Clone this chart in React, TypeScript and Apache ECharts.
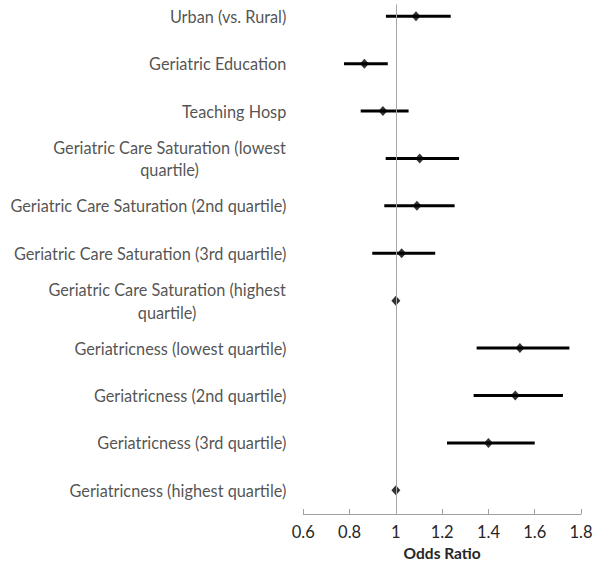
import React, { useEffect, useRef } from "react";
import * as echarts from "echarts";

const categories: string[] = [
  "Urban (vs. Rural)",
  "Geriatric Education",
  "Teaching Hosp",
  "Geriatric Care Saturation (lowest\nquartile)",
  "Geriatric Care Saturation (2nd quartile)",
  "Geriatric Care Saturation (3rd quartile)",
  "Geriatric Care Saturation (highest\nquartile)",
  "Geriatricness (lowest quartile)",
  "Geriatricness (2nd quartile)",
  "Geriatricness (3rd quartile)",
  "Geriatricness (highest quartile)",
];

const oddsRatio: number[] = [1.087, 0.864, 0.944, 1.103, 1.091, 1.025, 1.0, 1.536, 1.516, 1.4, 1.0];
const ciLow: (number | null)[] = [0.957, 0.776, 0.848, 0.956, 0.95, 0.898, null, 1.349, 1.336, 1.221, null];
const ciHigh: (number | null)[] = [1.237, 0.965, 1.055, 1.273, 1.254, 1.17, null, 1.75, 1.722, 1.6, null];

const xTicks = { min: 0.6, max: 1.8, interval: 0.2 };
const xTitle = "Odds Ratio";

const FONT = "Lato, 'Open Sans', sans-serif";
const TEXT = "#262626";
const LABEL_SIZE = 16.3;

export default function App() {
  const ref = useRef<HTMLDivElement>(null);
  useEffect(() => {
    if (!ref.current) return;
    const chart = echarts.init(ref.current, null, { renderer: "svg" });
    const canvas = document.createElement("canvas");
    const ctx = canvas.getContext("2d");
    const measure = (s: string) => {
      if (!ctx) return s.length * 7;
      ctx.font = LABEL_SIZE + "px " + FONT;
      return ctx.measureText(s).width;
    };
    const errData = categories
      .map((_, i) => (ciLow[i] != null && ciHigh[i] != null ? [ciLow[i], ciHigh[i], i] : null))
      .filter((d) => d !== null);
    const rich: Record<string, any> = {};
    const formatted = categories.map((s, i) => {
      if (s.indexOf("\n") < 0) return s;
      const lines = s.split("\n");
      const w = Math.max(...lines.map(measure)) + 1;
      const key = "c" + i;
      rich[key] = {
        width: w,
        align: "center",
        fontFamily: FONT,
        fontSize: LABEL_SIZE,
        color: TEXT,
        lineHeight: 22.7,
      };
      return lines.map((l) => "{" + key + "|" + l + "}").join("\n");
    });
    chart.setOption({
      animation: false,
      grid: { left: 303.3, right: 19, top: 4.4, bottom: 51.6 },
      xAxis: {
        type: "value",
        position: "bottom",
        min: xTicks.min,
        max: xTicks.max,
        interval: xTicks.interval,
        splitLine: { show: false },
        axisLine: { show: true, onZero: false, lineStyle: { color: "#a0a0a0", width: 1 } },
        axisTick: { show: true, inside: true, length: 5, lineStyle: { color: "#a0a0a0" } },
        axisLabel: { fontFamily: FONT, fontSize: 16.5, color: TEXT, margin: 9 },
        name: xTitle,
        nameLocation: "middle",
        nameGap: 31,
        nameTextStyle: { fontFamily: FONT, fontSize: 15.5, fontWeight: "bold", color: TEXT },
      },
      yAxis: {
        type: "value",
        inverse: true,
        min: -0.25,
        max: 10.5,
        show: false,
      },
      series: [
        {
          type: "custom",
          data: errData,
          renderItem: (params: any, api: any) => {
            const p1 = api.coord([api.value(0), api.value(2)]);
            const p2 = api.coord([api.value(1), api.value(2)]);
            return {
              type: "line",
              shape: { x1: p1[0], y1: p1[1], x2: p2[0], y2: p2[1] },
              style: { stroke: "#000", lineWidth: 3 },
            };
          },
          encode: { x: [0, 1], y: 2 },
          z: 2,
        },
        {
          type: "scatter",
          data: oddsRatio.map((v, i) => [v, i]),
          symbol: "diamond",
          symbolSize: [9, 10],
          itemStyle: { color: "#000" },
          z: 3,
          markLine: {
            silent: true,
            symbol: "none",
            label: { show: false },
            lineStyle: { color: "#a6a6a6", width: 1, type: "solid" },
            data: [{ xAxis: 1 }],
          },
        },
        {
          type: "scatter",
          data: categories.map((c, i) => [xTicks.min, i, i]),
          symbolSize: 0,
          silent: true,
          label: {
            show: true,
            position: "left",
            distance: 17,
            fontFamily: FONT,
            fontSize: LABEL_SIZE,
            color: TEXT,
            lineHeight: 22.7,
            formatter: (p: any) => formatted[p.data[2]],
            rich,
          },
        },
      ],
    });
    return () => chart.dispose();
  }, []);
  return <div ref={ref} style={{ width: 600, height: 566, position: "absolute", left: 0, top: 0 }} />;
}
